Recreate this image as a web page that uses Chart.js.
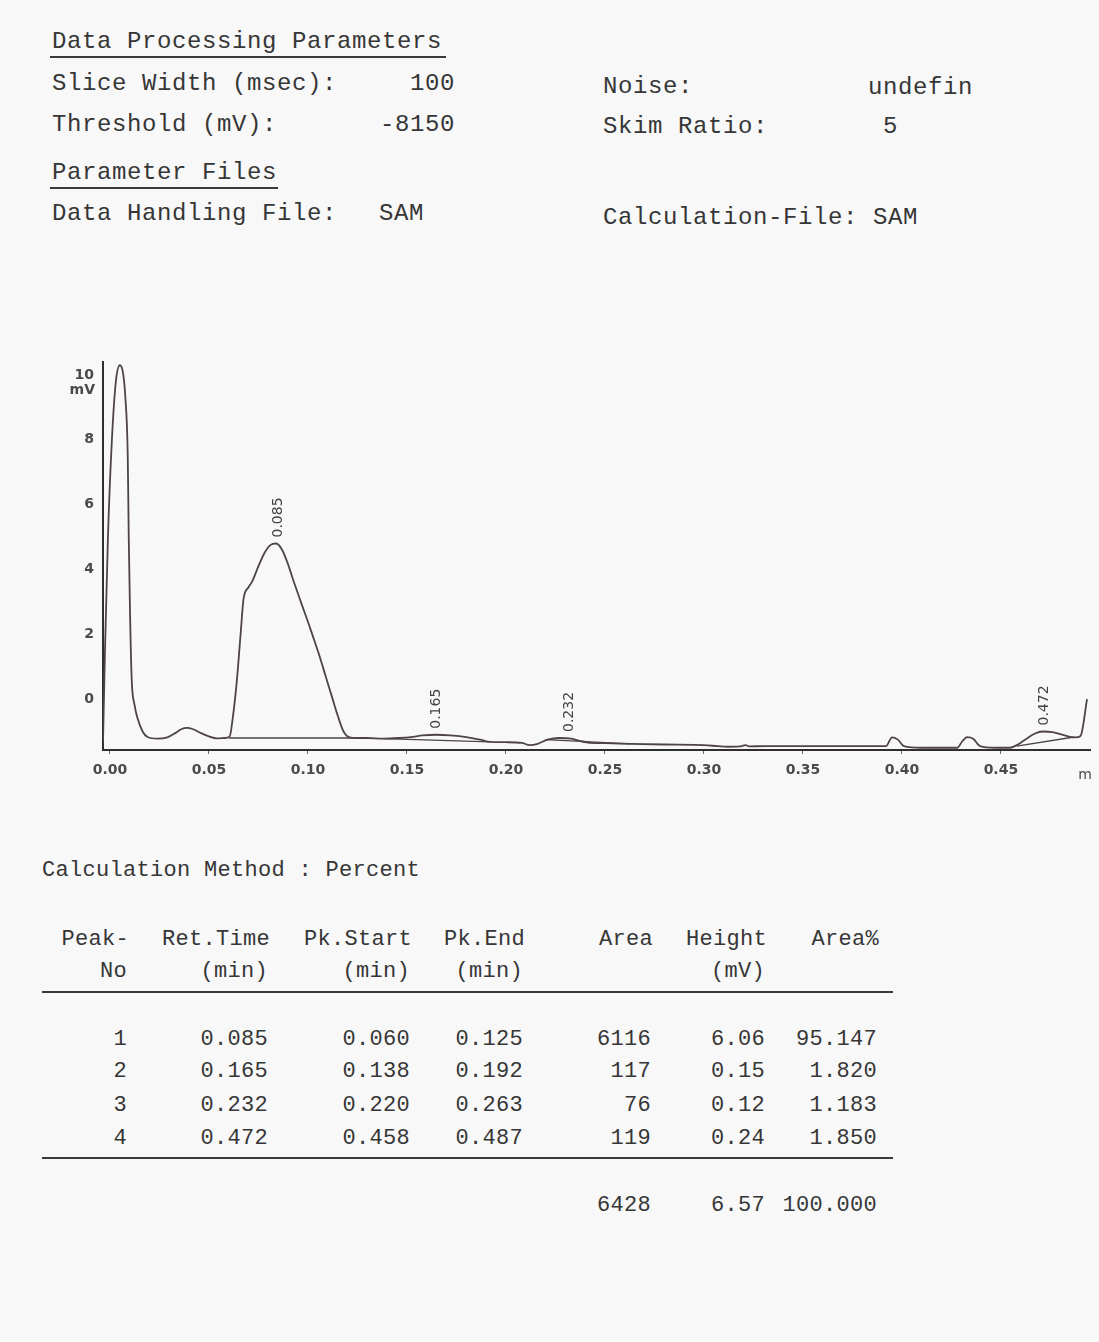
<!DOCTYPE html>
<html>
<head>
<meta charset="utf-8">
<script src="https://cdn.jsdelivr.net/npm/chart.js@4/dist/chart.umd.min.js"></script>
<style>
  html, body { margin: 0; padding: 0; }
  body { width: 1099px; height: 1342px; overflow: hidden; background: #f8f8f9; position: relative; color: #363636; }
  .t { position: absolute; white-space: pre; font-family: "Courier New", "Liberation Mono", "DejaVu Sans Mono", monospace; }
  .hdr { font-size: 24px; letter-spacing: 0.6px; line-height: 30px; }
  .tbl { font-size: 22px; letter-spacing: 0.3px; line-height: 28px; }
  .rule { position: absolute; background: #3a3a3a; }
  #chartBox { position: absolute; left: 0; top: 330px; width: 1099px; height: 480px; }
</style>
</head>
<body>
<div id="page"></div>
<div id="chartBox"><canvas id="chrom" width="1099" height="480"></canvas></div>
<script>
// ---- Chromatogram trace (time in min, signal in mV) ----
const traceTime = [
  -0.0035, -0.0025, -0.001, 0.001, 0.003, 0.005, 0.0065, 0.0078, 0.009, 0.0095,
  0.0102, 0.011, 0.0125, 0.014, 0.0165, 0.019, 0.024, 0.029, 0.033, 0.036,
  0.039, 0.042, 0.046, 0.050, 0.054, 0.058, 0.0605, 0.062, 0.064, 0.066,
  0.0675, 0.070, 0.072, 0.075, 0.078, 0.081, 0.084, 0.087, 0.090, 0.093,
  0.097, 0.1005, 0.103, 0.106, 0.109, 0.112, 0.115, 0.118, 0.121, 0.125,
  0.130, 0.138, 0.146, 0.152, 0.158, 0.165, 0.172, 0.180, 0.187, 0.192,
  0.200, 0.208, 0.212, 0.216, 0.221, 0.227, 0.233, 0.238, 0.243, 0.250,
  0.263, 0.280, 0.300, 0.307, 0.312, 0.318, 0.321, 0.323, 0.330, 0.360,
  0.392, 0.395, 0.398, 0.401, 0.410, 0.428, 0.4305, 0.433, 0.436, 0.4395,
  0.447, 0.4545, 0.458, 0.462, 0.467, 0.471, 0.476, 0.480, 0.4865, 0.489,
  0.4905, 0.4935
];
const traceMv = [
  -1.35, 1.5, 5.0, 8.0, 9.8, 10.3, 10.1, 9.3, 7.5, 5.0,
  2.5, 0.6, -0.2, -0.6, -1.0, -1.17, -1.22, -1.18, -1.05, -0.93,
  -0.89, -0.93, -1.05, -1.15, -1.21, -1.2, -1.15, -0.6, 0.5, 2.0,
  3.1, 3.45, 3.65, 4.1, 4.5, 4.75, 4.8, 4.6, 4.15, 3.6,
  2.9, 2.3, 1.85, 1.3, 0.7, 0.1, -0.5, -1.0, -1.18, -1.2,
  -1.2, -1.22, -1.2, -1.17, -1.12, -1.1, -1.12, -1.17, -1.25, -1.32,
  -1.33, -1.35, -1.42, -1.38, -1.25, -1.2, -1.22, -1.3, -1.35, -1.36,
  -1.38, -1.4, -1.42, -1.45, -1.47, -1.46, -1.42, -1.46, -1.45, -1.45,
  -1.45, -1.18, -1.25, -1.45, -1.5, -1.5, -1.3, -1.17, -1.22, -1.45,
  -1.5, -1.5, -1.42, -1.26, -1.07, -1.0, -1.02, -1.08, -1.18, -1.17,
  -1.1, 0.0
];

// ---- Peak table ----
const peakNo   = ['1', '2', '3', '4'];
const retTime  = ['0.085', '0.165', '0.232', '0.472'];
const pkStart  = ['0.060', '0.138', '0.220', '0.458'];
const pkEnd    = ['0.125', '0.192', '0.263', '0.487'];
const area     = ['6116', '117', '76', '119'];
const heightMv = ['6.06', '0.15', '0.12', '0.24'];
const areaPct  = ['95.147', '1.820', '1.183', '1.850'];
const totals   = ['6428', '6.57', '100.000'];

// baseline levels (mV) at each peak's start and end
const baseStartMv = [-1.2, -1.22, -1.25, -1.45];
const baseEndMv   = [-1.2, -1.32, -1.38, -1.17];

// ---- Axis ticks ----
const xTicks = [0.00, 0.05, 0.10, 0.15, 0.20, 0.25, 0.30, 0.35, 0.40, 0.45];
const yTicks = [0, 2, 4, 6, 8, 10];

// ---- Printed header and table ----
const page = document.getElementById('page');
function text(str, cls, left, centerY, lh, right) {
  const d = document.createElement('div');
  d.className = 't ' + cls;
  d.textContent = str;
  d.style.top = (centerY - lh / 2) + 'px';
  if (right) { d.style.right = (1099 - right) + 'px'; d.style.textAlign = 'right'; }
  else d.style.left = left + 'px';
  page.appendChild(d);
}
function rule(left, top, width, h) {
  const d = document.createElement('div');
  d.className = 'rule';
  Object.assign(d.style, { left: left + 'px', top: top + 'px', width: width + 'px', height: (h || 2) + 'px' });
  page.appendChild(d);
}
const H = 30, T = 28;
text('Data Processing Parameters', 'hdr', 52, 42, H);
rule(50, 56, 396);
text('Slice Width (msec):', 'hdr', 52, 84, H);
text('100', 'hdr', 0, 84, H, 455);
text('Noise:', 'hdr', 603, 87, H);
text('undefin', 'hdr', 868, 88, H);
text('Threshold (mV):', 'hdr', 52, 125, H);
text('-8150', 'hdr', 0, 125, H, 455);
text('Skim Ratio:', 'hdr', 603, 127, H);
text('5', 'hdr', 883, 127, H);
text('Parameter Files', 'hdr', 52, 173, H);
rule(50, 187, 228);
text('Data Handling File:', 'hdr', 52, 214, H);
text('SAM', 'hdr', 379, 214, H);
text('Calculation-File: SAM', 'hdr', 603, 218, H);

text('Calculation Method : Percent', 'tbl', 42, 871, T);
const colRight = [129, 270, 412, 525, 653, 767, 879];
const head1 = ['Peak-', 'Ret.Time', 'Pk.Start', 'Pk.End', 'Area', 'Height', 'Area%'];
const head2 = ['No', '(min)', '(min)', '(min)', '', '(mV)', ''];
head1.forEach((s, i) => text(s, 'tbl', 0, 940, T, colRight[i]));
head2.forEach((s, i) => { if (s) text(s, 'tbl', 0, 972, T, colRight[i] - 2); });
rule(42, 991, 851);
const rowY = [1040, 1072, 1106, 1139];
peakNo.forEach((_, r) => {
  const cells = [peakNo[r], retTime[r], pkStart[r], pkEnd[r], area[r], heightMv[r], areaPct[r]];
  cells.forEach((s, i) => text(s, 'tbl', 0, rowY[r], T, colRight[i] - 2));
});
rule(42, 1157, 851);
totals.forEach((s, i) => text(s, 'tbl', 0, 1206, T, colRight[4 + i] - 2));

// ---- Chromatogram ----
const ink = '#4e4446';
const axisFont = { size: 14, weight: 'bold', family: '"DejaVu Sans", "Liberation Sans", sans-serif' };
const traceData = traceTime.map((t, i) => ({ x: t, y: traceMv[i] }));
const baselineSets = pkStart.map((s, i) => ({
  data: [{ x: +s, y: baseStartMv[i] }, { x: +pkEnd[i], y: baseEndMv[i] }],
  borderColor: ink, borderWidth: 1.4, pointRadius: 0, tension: 0
}));

const peakLabels = {
  id: 'peakLabels',
  afterDatasetsDraw(chart) {
    const { ctx, scales: { x, y } } = chart;
    ctx.save();
    ctx.fillStyle = '#444';
    ctx.font = '14px "DejaVu Sans", "Liberation Sans", sans-serif';
    retTime.forEach(rt => {
      const t = +rt;
      let top = -Infinity;
      traceTime.forEach((tt, i) => { if (Math.abs(tt - t) <= 0.006) top = Math.max(top, traceMv[i]); });
      const px = x.getPixelForValue(t), py = y.getPixelForValue(top) - 6;
      ctx.save();
      ctx.translate(px, py);
      ctx.rotate(-Math.PI / 2);
      ctx.textAlign = 'left';
      ctx.textBaseline = 'middle';
      ctx.fillText(rt, 0, 0);
      ctx.restore();
    });
    // axis units
    ctx.font = 'bold 14px "DejaVu Sans", "Liberation Sans", sans-serif';
    ctx.fillStyle = '#4a4a4a';
    ctx.textAlign = 'right';
    ctx.textBaseline = 'middle';
    ctx.fillText('mV', 95, y.getPixelForValue(10) + 15);
    ctx.textAlign = 'center';
    ctx.font = '14px "DejaVu Sans", "Liberation Sans", sans-serif';
    ctx.fillText('m', 1085, y.bottom + 25);
    ctx.restore();
  }
};

new Chart(document.getElementById('chrom'), {
  type: 'line',
  data: {
    datasets: [
      { data: traceData, borderColor: ink, borderWidth: 1.8, pointRadius: 0, cubicInterpolationMode: 'monotone' },
      ...baselineSets
    ]
  },
  options: {
    responsive: false,
    animation: false,
    layout: { padding: { left: 0, right: 9, top: 32, bottom: 30 } },
    plugins: { legend: { display: false }, tooltip: { enabled: false } },
    scales: {
      x: {
        type: 'linear', min: -0.0035, max: 0.495,
        afterBuildTicks: s => { s.ticks = xTicks.map(v => ({ value: v })); },
        afterFit: s => { s.height = 30; },
        ticks: { callback: v => v.toFixed(2), color: '#4a4a4a', font: axisFont, padding: 8, maxRotation: 0 },
        grid: { drawOnChartArea: false, tickLength: 4, color: '#666' },
        border: { color: '#2e2e2e', width: 2 }
      },
      y: {
        type: 'linear', min: -1.57, max: 10.4,
        afterBuildTicks: s => { s.ticks = yTicks.map(v => ({ value: v })); },
        afterFit: s => { s.width = 103; },
        ticks: { color: '#4a4a4a', font: axisFont, padding: 9 },
        grid: { drawOnChartArea: false, drawTicks: false },
        border: { color: '#2e2e2e', width: 2 }
      }
    }
  },
  plugins: [peakLabels]
});
</script>
</body>
</html>
